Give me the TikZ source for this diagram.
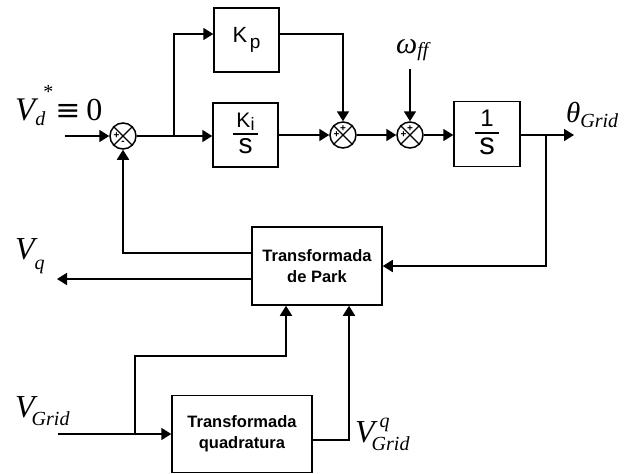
\documentclass[tikz,border=0pt]{standalone}
\usepackage{fontspec}
\setmainfont{Liberation Sans}
\newfontfamily\tnr{Liberation Serif}
\newfontfamily\djv{DejaVu Serif}
\usetikzlibrary{arrows.meta,calc}
\tikzset{
  blk/.style={draw, line width=1.5pt, inner sep=0pt, align=center},
  sumj/.style={draw, circle, line width=1.5pt, minimum size=26pt, inner sep=0pt},
  sig/.style={line width=1.7pt},
  arr/.style={sig, -{Triangle[length=10pt,width=12pt]}},
  lbl/.style={inner sep=0pt, anchor=base west, font=\tnr\itshape},
  sgn/.style={inner sep=0pt, font=\fontsize{10}{10}\selectfont\bfseries},
  xmark/.style={line width=1.3pt},
}
\newcommand{\fs}[1]{\fontsize{#1}{#1}\selectfont}
\begin{document}
\begin{tikzpicture}[x=1pt,y=-1pt]
\useasboundingbox (0,0) rectangle (633,474);

% blocks
\node[blk, minimum width=65pt, minimum height=64pt] (kp) at (246.5,40)
  {\fs{22}K\hspace{2.5pt}\raisebox{-6pt}{\fs{19}p}};
\node[blk, minimum width=65pt, minimum height=64pt] (ki) at (245.5,135)
  {\setlength{\arrayrulewidth}{1.6pt}\renewcommand{\arraystretch}{1.0}%
   \begin{tabular}{@{\hspace{3pt}}c@{\hspace{3pt}}}\fs{21}K\raisebox{-3pt}{\fs{18}i}\\[2pt]\hline\fs{28}\rule{0pt}{19pt}s\end{tabular}};
\node[blk, minimum width=66pt, minimum height=65pt] (int) at (487,134)
  {\setlength{\arrayrulewidth}{1.6pt}\renewcommand{\arraystretch}{1.0}%
   \begin{tabular}{@{\hspace{4pt}}c@{\hspace{4pt}}}\fs{24}1\\[2pt]\hline\fs{31}\rule{0pt}{21pt}s\end{tabular}};
\node[blk, minimum width=130pt, minimum height=78pt, font=\bfseries\fontsize{16.5}{21}\selectfont] (park) at (317,266)
  {Transformada\\de Park};
\node[blk, minimum width=140pt, minimum height=77pt, font=\bfseries\fontsize{16.5}{21}\selectfont] (quad) at (242,434)
  {Transformada\\quadratura};

% summing junctions
\node[sumj] (s1) at (123,136) {};
\node[sumj] (s2) at (343,135) {};
\node[sumj] (s3) at (410,135) {};
\foreach \s in {s1,s2,s3}{
  \draw[xmark] (\s.north west) -- (\s.south east) (\s.north east) -- (\s.south west);
}
\node[sgn] (s1p) at ([xshift=-6.5pt]s1.center) {+};
\node[sgn] (s1m) at ([yshift=-7pt]s1.center) {-};
\node[sgn] (s2p) at ([xshift=-6.5pt]s2.center) {+};
\node[sgn] (s2t) at ([yshift=6.5pt]s2.center) {+};
\node[sgn] (s3p) at ([xshift=-6.5pt]s3.center) {+};
\node[sgn] (s3t) at ([yshift=6.5pt]s3.center) {+};

% coordinates
\coordinate (vin) at (65,136);
\coordinate (br1) at (174,136);
\coordinate (wff) at (410,69);
\coordinate (thend) at (574,135);
\coordinate (br2) at (546,135);
\coordinate (vqend) at (57,279);
\coordinate (vgin) at (58,434);
\coordinate (br3) at (135,434);
\coordinate (jn) at (286,356);

% connectors
\draw[arr] (vin) -- (s1.west);
\draw[arr] (s1.east) -- (ki.west |- s1.east);
\draw[arr] (br1) |- ([yshift=6pt]kp.west);
\draw[arr] ([yshift=6pt]kp.east) -| (s2.north);
\draw[arr] (ki.east |- s2.west) -- (s2.west);
\draw[arr] (s2.east) -- (s3.west);
\draw[arr] (wff) -- (s3.north);
\draw[arr] (s3.east) -- (int.west |- s3.east);
\draw[arr] (int.east |- thend) -- (thend);
\draw[arr] (br2) |- (park.east);
\draw[arr] ([yshift=13pt]park.west) -| (s1.south);
\draw[arr] ([yshift=-13pt]park.west) -- (vqend);
\draw[arr] (vgin) -- (quad.west);
\draw[arr] (br3) |- (jn) -- ([xshift=-31pt]park.south);
\draw[arr] ([yshift=-6pt]quad.east) -| ([xshift=32pt]park.south);

% labels
\node[lbl] (vdl) at (15,120) {\fs{33}V\raisebox{-5pt}{\fs{20}d}\hspace{-2pt}\raisebox{22pt}{\fs{20}\upshape *}\hspace{2pt}{\upshape\djv\fs{30}≡}\hspace{6pt}{\upshape\fs{32}0}};
\node[lbl] (wl) at (396,53) {\fs{30}ω\raisebox{-3pt}{\fs{20}ff}};
\node[lbl] (thl) at (566,122) {\fs{29}θ\raisebox{-5pt}{\fs{20}Grid}};
\node[lbl] (vql) at (15,259) {\fs{32}V\raisebox{-10pt}{\fs{20}q}};
\node[lbl] (vgl) at (15,417) {\fs{32}V\hspace{-3pt}\raisebox{-8pt}{\fs{20}Grid}};
\node[lbl] (vgql) at (355,442) {\fs{32}V\hspace{-3pt}\rlap{\hspace{8pt}\raisebox{15pt}{\fs{20}q}}\raisebox{-8pt}{\fs{20}Grid}};
\end{tikzpicture}
\end{document}
